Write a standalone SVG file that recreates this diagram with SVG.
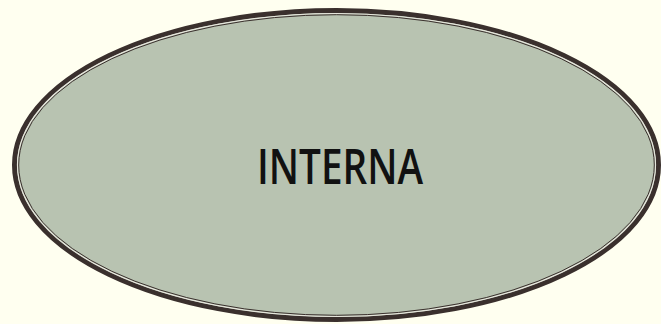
<svg xmlns="http://www.w3.org/2000/svg" width="661" height="324" viewBox="0 0 661 324">
<style>
.lbl{font-family:"Open Sans","Noto Sans","Liberation Sans",sans-serif;font-size:49px;font-weight:600;fill:#111111;}
</style>
<rect x="0" y="0" width="661" height="324" fill="#fffff0"/>
<g id="node-interna">
<ellipse cx="336.5" cy="165" rx="322" ry="154.5" fill="#b8c3b1" stroke="#3a302d" stroke-width="5"/>
<ellipse cx="336.5" cy="165" rx="319" ry="151.5" fill="none" stroke="#e6e6dc" stroke-width="1.2"/>
<ellipse cx="336.5" cy="165" rx="317.8" ry="150.3" fill="none" stroke="#3a302d" stroke-width="1"/>
<text class="lbl" x="340" y="183.5" text-anchor="middle" textLength="166" lengthAdjust="spacingAndGlyphs">INTERNA</text>
</g>
<g id="connectors"/>
</svg>
